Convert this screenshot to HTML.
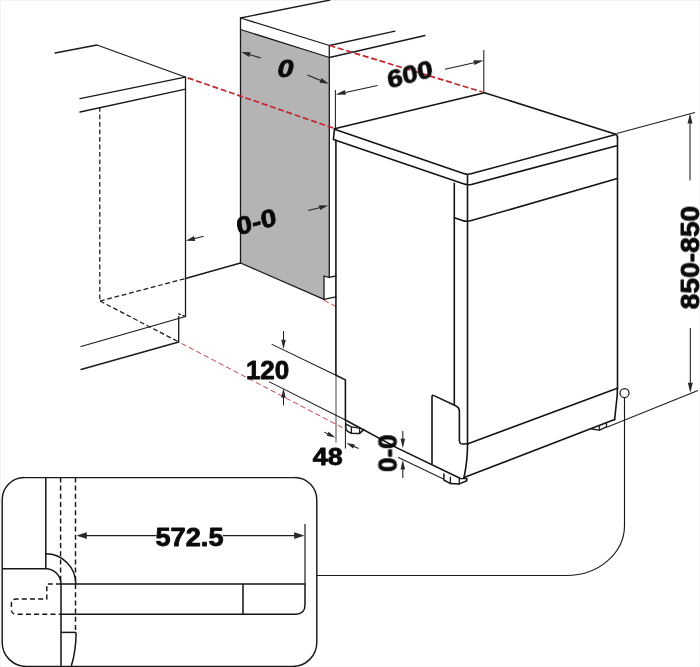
<!DOCTYPE html>
<html>
<head>
<meta charset="utf-8">
<title>Dishwasher installation dimensions</title>
<style>
  html, body { margin: 0; padding: 0; background: #ffffff; }
  body { width: 700px; height: 667px; overflow: hidden; font-family: "Liberation Sans", sans-serif; }
  svg { display: block; }
  .k  { stroke: #1a1a1a; stroke-width: 1.3; fill: none; stroke-linecap: round; stroke-linejoin: round; }
  .kb { stroke: #141414; stroke-width: 1.6; fill: none; stroke-linecap: round; stroke-linejoin: round; }
  .ki { stroke: #151515; stroke-width: 1.5; fill: none; stroke-linecap: butt; stroke-linejoin: round; }
  .di { stroke: #151515; stroke-width: 1.45; fill: none; stroke-dasharray: 5 3.2; }
  .t  { stroke: #1e1e1e; stroke-width: 1.05; fill: none; stroke-linecap: butt; }
  .d  { stroke: #1a1a1a; stroke-width: 1.25; fill: none; stroke-dasharray: 4.8 2.7; }
  .r  { stroke: #c1272d; stroke-width: 1.7; fill: none; stroke-dasharray: 6 2.7; }
  .rt { stroke: #c6404a; stroke-width: 1.0; fill: none; stroke-dasharray: 5.4 3; }
  .ah { fill: #2a2a2a; stroke: none; }
  text { font-family: "Liberation Sans", sans-serif; font-weight: bold; fill: #0a0a0a; stroke: #0a0a0a; stroke-width: 0.8; stroke-linejoin: round; }
</style>
</head>
<body>
<svg width="700" height="667" viewBox="0 0 700 667">
  <rect x="0" y="0" width="700" height="667" fill="#ffffff"/>
  <!-- faint frame -->
  <path d="M0.5,667 V0.5 H700" stroke="#f3f3f3" stroke-width="1" fill="none"/>
  <path d="M699.5,0 V666.5 H0" stroke="#f8f8f8" stroke-width="1" fill="none"/>

  <!-- ===== far-left cabinet ===== -->
  <g id="cab-left">
    <path class="k" d="M55,53 L97,45 L185.2,77"/>
    <path class="k" d="M80,98.6 L185.2,77.2"/>
    <path class="k" d="M80,112 L185.6,89.2"/>
    <path class="k" d="M185.5,77 V316.5"/>
    <path class="d" d="M99.8,107 V301"/>
    <path class="d" d="M100,301 L185.5,278.5"/>
    <path class="k" d="M185.5,278.5 L240.5,263"/>
    <path class="d" d="M100,301 L178.75,342"/>
    <path class="k" d="M81,346.5 L185.5,316.5"/>
    <path class="k" d="M178.7,318.6 V342"/>
    <path class="k" style="stroke-dasharray:2.6 1.8;stroke-linecap:butt" d="M178.7,318.6 V313.9 L185.5,316.5"/>
    <path class="k" d="M81,369.5 L178.75,342"/>
  </g>

  <!-- ===== middle worktop + grey panel ===== -->
  <g id="panel">
    <polygon points="240.5,29.5 329,57.5 329,277 324,276 324,299.4 240.5,263" fill="#b4b4b4"/>
    <path class="k" d="M240.5,18 L330,0"/>
    <path class="k" d="M240.5,18 L329.5,45.5"/>
    <path class="k" d="M329.5,45.5 L395,31.2"/>
    <path class="k" d="M240.5,29.5 L329.5,57.5"/>
    <path class="k" d="M329.5,57.5 L425,35.5"/>
    <path class="k" d="M240.5,18 V263"/>
    <path class="k" d="M329.3,45.5 V277.2"/>
    <path class="k" d="M240.5,263 L324,299.4"/>
    <path class="k" d="M324,299.4 V276 L328.8,277.4 L336,276"/>
    <path class="k" d="M324,299.4 L336,296.9"/>
  </g>

  <!-- ===== red dashed guide lines ===== -->
  <g id="guides">
    <path class="r" style="stroke-dashoffset:6" d="M185.2,77 L334,128.3"/>
    <path class="r" d="M329.5,45.5 L482.5,92"/>
    <path class="rt" style="stroke-dashoffset:5.4" d="M178.75,342 L345.7,429.3"/>
    <path class="rt" d="M324,300.3 L335,306"/>
  </g>

  <!-- ===== dishwasher ===== -->
  <g id="dw">
    <!-- top -->
    <path class="kb" d="M334.5,128.8 L484.5,92.7 L615.7,134.3"/>
    <path class="kb" d="M334.5,129.2 L463.6,173.4 Q467.4,174.8 471,173.8 L615.7,134.6"/>
    <path class="kb" d="M334.5,129.2 L333.4,139.5 L462.6,183.6 Q467.4,185.5 471.4,184.4 L616.8,145.7"/>
    <path class="kb" d="M615.7,134.3 Q617.5,134.8 617.5,137.4"/>
    <!-- control strip -->
    <path class="kb" d="M454.3,217.8 L462.6,220.6 Q467.4,221.8 471.4,220.6 L617.3,178.6"/>
    <!-- verticals -->
    <path class="kb" d="M335.9,140 V374.5"/>
    <path class="kb" d="M454.3,183.4 V404.5"/>
    <path class="kb" d="M467.5,175 V443.8"/>
    <path class="kb" d="M617.5,137 V389"/>
    <!-- lower door edge and plinth -->
    <path class="kb" d="M468,443.8 L617.3,388.3"/>
    <path class="kb" d="M467.6,443.8 Q467.4,462 464,477.5"/>
    <path class="kb" d="M617.4,388 Q617.5,395 616.6,401 L614.6,419.6"/>
    <path class="kb" d="M464,477.5 L614.6,419.6"/>
    <!-- side kick panel -->
    <path class="kb" d="M432,463.6 V397 Q432,394.6 434,395.6 L455.6,405.8 Q459.4,407.6 459.4,411.5 V440.5 Q459.4,444.2 463,444 L468,443.8"/>
    <!-- feet -->
    <path class="kb" style="stroke-width:1.5" d="M345.8,423 L345.9,429.2 Q347,431.6 351.5,433.2 L359.6,433.4 L363.8,429.6"/>
    <path class="k" style="stroke-width:1.3" d="M351.4,426.8 V433 M359.6,428.3 V433.3 M346.5,424.4 L351.4,426.8 L359.6,428.2"/>
    <path class="kb" style="stroke-width:1.5" d="M443.9,473.9 V480 L450.4,483.6 L459.3,483.9 L466.8,480.7 V478.7 L464,477.5"/>
    <path class="k" style="stroke-width:1.3" d="M450.4,477.1 V483.6 M459.3,478.7 V483.9 M459.3,478.7 L466.8,478.7"/>
    <path class="k" style="stroke-width:1.3" d="M591.7,429 L599.3,430.2 L606.5,426.8 V423.6"/>
    <path class="k" style="stroke-width:1.2" d="M599.3,425.9 V430.2"/>
  </g>

  <!-- ===== floor / plinth dimension lines ===== -->
  <g id="floor">
    <path class="k" style="stroke-width:1.05" d="M272,344.4 L336,375.3"/>
    <path class="kb" d="M336,375.3 L345.4,379.9 V420"/>
    <path class="t" d="M345.4,420 V448.6"/>
    <path class="t" style="stroke-width:0.85;stroke:#262626" d="M336,374.5 V442.5"/>
    <path class="k" style="stroke-width:1.05" d="M269.4,381.9 L345.4,420"/>
    <path class="kb" d="M345.4,420 L398,448.4 L460,478.2"/>
    <path class="t" d="M398,457.2 L443.9,479.3"/>
  </g>

  <!-- ===== connector to inset ===== -->
  <g id="conn">
    <circle cx="624.5" cy="393" r="4.5" fill="#ffffff" stroke="#1a1a1a" stroke-width="1.25"/>
    <path d="M624.5,397.5 V525.5 A58,50 0 0 1 566.5,575.5 H316.8" stroke="#1a1a1a" stroke-width="1.15" fill="none"/>
  </g>

  <!-- ===== dimension extension lines & arrows ===== -->
  <g id="dims">
    <!-- 600 -->
    <path class="t" d="M335.4,90 V128.5"/>
    <path class="t" d="M483.8,50 V92.5"/>
    <path class="t" d="M377.5,85.5 L338.5,93.9"/>
    <polygon class="ah" points="335.6,94.5 344.9,90.0 345.9,94.8"/>
    <path class="t" d="M445.0,69.2 L480.8,61.2"/>
    <polygon class="ah" points="483.7,60.5 474.5,65.1 473.4,60.3"/>
    <!-- 850 -->
    <path class="t" d="M616.6,133.4 L695,112.4"/>
    <path class="t" d="M606.8,427.3 L698,390.5"/>
    <path class="t" d="M690.0,180.6 L690.0,116.6"/>
    <polygon class="ah" points="690.0,113.6 692.5,123.6 687.5,123.6"/>
    <path class="t" d="M690.3,328.0 L690.3,389.8"/>
    <polygon class="ah" points="690.3,392.8 687.8,382.8 692.8,382.8"/>
    <!-- 0 (worktop overhang) -->
    <path class="t" d="M260.8,58.0 L244.2,52.9"/>
    <polygon class="ah" points="241.3,52.0 250.6,52.3 249.2,57.0"/>
    <path class="t" d="M307.5,75.0 L326.0,82.7"/>
    <polygon class="ah" points="328.8,83.8 319.5,82.7 321.4,78.1"/>
    <!-- 0-0 (panel) -->
    <path class="t" d="M308.2,210.5 L325.3,206.2"/>
    <polygon class="ah" points="328.2,205.5 320.1,210.1 318.9,205.3"/>
    <!-- left cabinet arrow -->
    <path class="t" d="M203.6,236.2 L188.8,240.0"/>
    <polygon class="ah" points="185.9,240.8 194.0,236.1 195.2,241.0"/>
    <!-- 120 -->
    <path class="t" d="M283.5,331.0 L283.5,346.2"/>
    <polygon class="ah" points="283.5,349.2 281.2,339.7 285.8,339.7"/>
    <path class="t" d="M283.5,405.5 L283.5,391.3"/>
    <polygon class="ah" points="283.5,388.3 285.8,397.8 281.2,397.8"/>
    <!-- 48 -->
    <path class="t" d="M324.3,432.1 L332.6,436.2"/>
    <polygon class="ah" points="335.3,437.5 326.7,435.8 328.7,431.7"/>
    <path class="t" d="M358.6,448.6 L349.0,444.2"/>
    <polygon class="ah" points="346.3,442.9 355.0,444.4 353.0,448.6"/>
    <!-- 0-0 (feet) -->
    <path class="t" d="M402.8,431.0 L402.8,445.2"/>
    <polygon class="ah" points="402.8,448.2 400.5,438.7 405.1,438.7"/>
    <path class="t" d="M402.8,478.0 L402.8,462.9"/>
    <polygon class="ah" points="402.8,459.9 405.1,469.4 400.5,469.4"/>
  </g>

  <!-- ===== inset ===== -->
  <g id="inset">
    <path d="M24.4,477.6 H294.6 A22,22 0 0 1 316.8,499.6 V642.4 A24,24 0 0 1 292.8,666.4 H26.2 A24,24 0 0 1 2.2,642.4 V499.6 A22,22 0 0 1 24.4,477.6 Z" fill="none" stroke="#1a1a1a" stroke-width="1.45"/>
    <path class="ki" d="M45.8,477.4 V568.8"/>
    <path class="ki" d="M2.2,568.8 H45.8 A15.2,15.2 0 0 1 61,584 V666.4"/>
    <path class="ki" d="M45.8,553.8 A30,30 0 0 1 75.8,584"/>
    <path class="ki" d="M76.1,632.4 Q76,651 71.2,666.4"/>
    <path class="di" d="M60.6,477.4 V584"/>
    <path class="di" d="M75.5,477.4 V632.4"/>
    <path class="ki" d="M61,584 H305 V604.8 Q305,614.3 295.5,614.3 H61"/>
    <path class="ki" d="M243,584 V614.3"/>
    <path class="ki" d="M61,632.4 H76"/>
    <path class="di" d="M61,584 H46.8 V599 H16.5 Q11.4,599 11.4,604 V609.5 Q11.4,614.3 16.5,614.3 H61"/>
    <path class="t" style="stroke-width:1.2" d="M305,524 V584"/>
    <path class="t" d="M78,535.6 H156.5"/>
    <path class="t" d="M223,535.6 H303"/>
    <polygon class="ah" points="76.6,535.6 86.8,532.3 86.8,538.9"/>
    <polygon class="ah" points="304.4,535.6 294.2,532.3 294.2,538.9"/>
  </g>

  <!-- ===== labels ===== -->
  <g id="labels" style="opacity:0.999">
    <text x="189.5" y="545.9" font-size="25.4" textLength="68" lengthAdjust="spacingAndGlyphs" text-anchor="middle">572.5</text>
    <text x="267.6" y="378.6" font-size="25.2" textLength="43.4" lengthAdjust="spacingAndGlyphs" text-anchor="middle">120</text>
    <text x="327.8" y="464.6" font-size="23.6" textLength="30" lengthAdjust="spacingAndGlyphs" text-anchor="middle">48</text>
    <text transform="translate(396.6,453.2) rotate(-90)" x="0" y="0" font-size="25.6" textLength="37.5" lengthAdjust="spacingAndGlyphs" text-anchor="middle">0-0</text>
    <text transform="translate(699.0,257.6) rotate(-90)" x="0" y="0" font-size="25.2" textLength="103.5" lengthAdjust="spacingAndGlyphs" text-anchor="middle">850-850</text>
    <text transform="translate(410,74.5) skewY(-6) rotate(-9.5)" x="0" y="8.4" font-size="23.4" textLength="45.5" lengthAdjust="spacingAndGlyphs" text-anchor="middle">600</text>
    <text transform="translate(256.2,221.2) skewY(-5.5) rotate(-9.5)" x="0" y="9" font-size="24.8" textLength="40" lengthAdjust="spacingAndGlyphs" text-anchor="middle">0-0</text>
    <text x="285.4" y="77.2" font-size="24" font-style="italic" textLength="16" lengthAdjust="spacingAndGlyphs" text-anchor="middle">0</text>
  </g>
</svg>
</body>
</html>
